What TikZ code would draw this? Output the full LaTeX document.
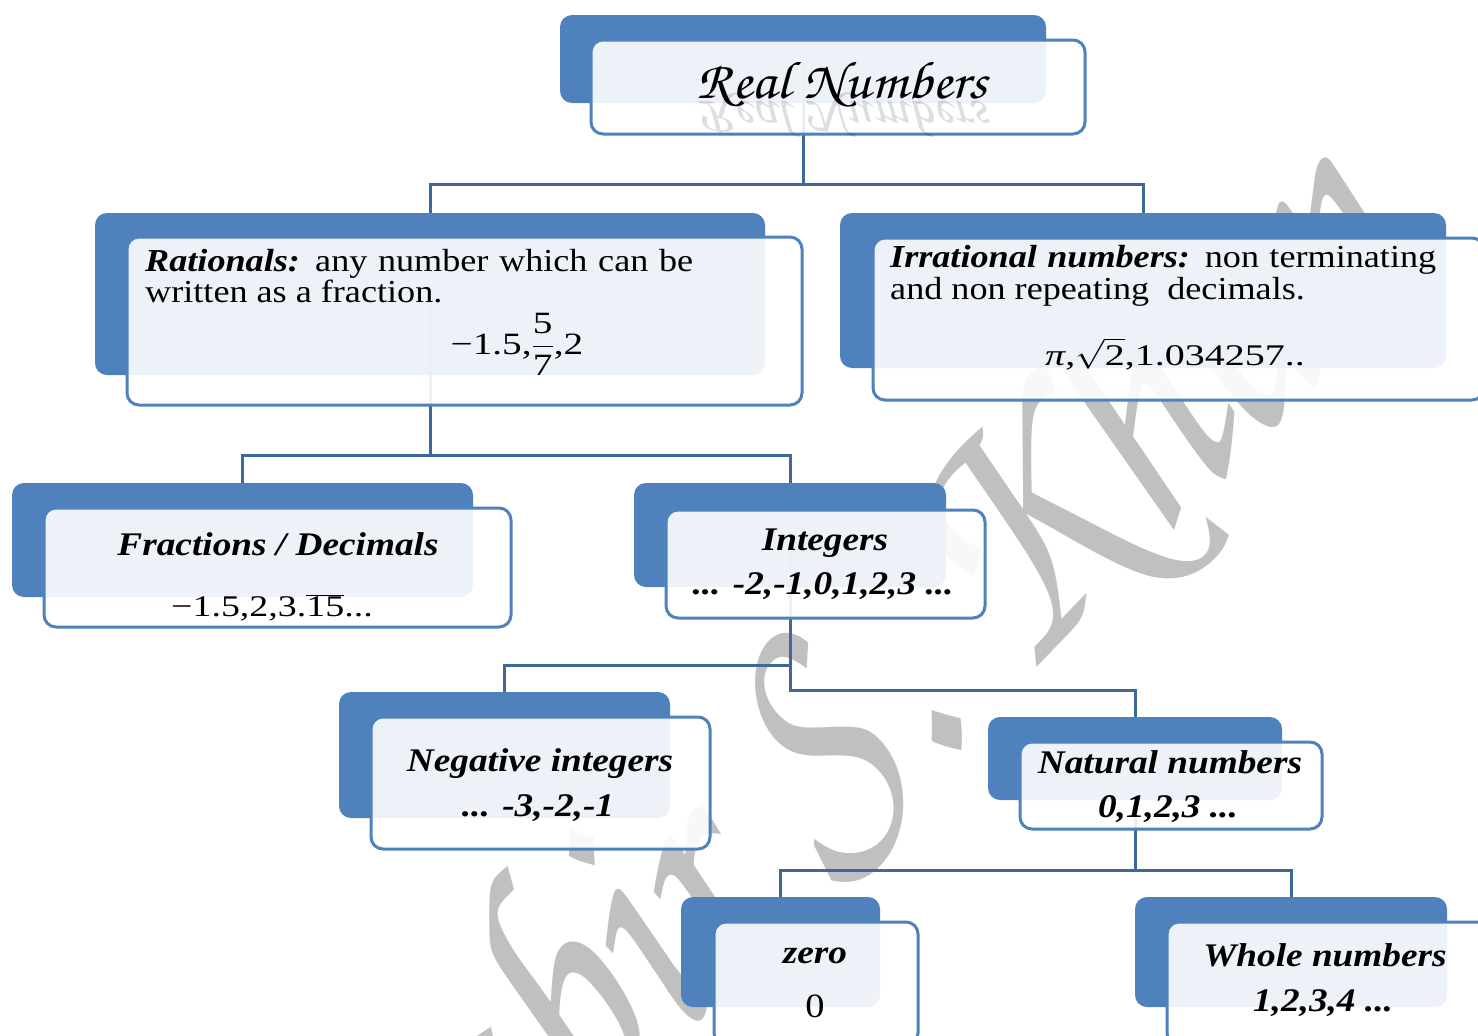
\RequirePackage{fix-cm}
\documentclass[tikz,border=0pt]{standalone}
\usepackage{fontspec}
\usepackage{graphicx}
\setmainfont{Liberation Serif}[FakeStretch=1.13]
\newfontfamily\chorus{texgyrechorus-mediumitalic.otf}
\definecolor{boxblue}{RGB}{79,129,189}
\definecolor{lineblue}{RGB}{62,106,155}
\definecolor{wmgray}{RGB}{192,192,192}
\tikzset{
  backbox/.style={fill=boxblue, draw=none, rounded corners=12pt, inner sep=0pt},
  frontbox/.style={fill=white, fill opacity=0.9, draw=boxblue, line width=3pt, rounded corners=12pt, inner sep=0pt},
  conn/.style={draw=lineblue, line width=3pt},
  ttl/.style={font=\fontsize{33}{36}\selectfont\bfseries\itshape, anchor=base, inner sep=0pt},
  bodytxt/.style={font=\fontsize{32}{32}\selectfont, anchor=base west, inner sep=0pt},
  numtxt/.style={font=\fontsize{30}{30}\selectfont, anchor=base, inner sep=0pt},
}
\begin{document}
\begin{tikzpicture}[x=1pt,y=-1pt]
\useasboundingbox (0,0) rectangle (1478,1036);
\clip (0,0) rectangle (1478,1036);
\fill[white] (0,0) rectangle (1478,1036);
% watermark
\begin{scope}[shift={(848,726)}]
\node[text=wmgray, font=\chorus\fontsize{300}{300}\selectfont, rotate=46, inner sep=0pt] (wm) at (0,0) {\scalebox{1}[1.2]{Sabir S. Khan}};
\end{scope}
% back boxes
\node[backbox, minimum width=486pt, minimum height=88pt] (rnB) at (803,59) {};
\node[backbox, minimum width=670pt, minimum height=162pt] (ratB) at (430,294) {};
\node[backbox, minimum width=606pt, minimum height=155pt] (irrB) at (1143,290.5) {};
\node[backbox, minimum width=461pt, minimum height=114pt] (fracB) at (242.5,540) {};
\node[backbox, minimum width=312pt, minimum height=104pt] (intB) at (790,535) {};
\node[backbox, minimum width=331pt, minimum height=126pt] (negB) at (504.5,755) {};
\node[backbox, minimum width=294pt, minimum height=83pt] (natB) at (1135,758.5) {};
\node[backbox, minimum width=199pt, minimum height=110pt] (zeroB) at (780.5,952) {};
\node[backbox, minimum width=312pt, minimum height=110pt] (wholeB) at (1291,952) {};
% connector levels
\coordinate (h1) at (0,184);
\coordinate (h2) at (0,455);
\coordinate (h3a) at (0,665);
\coordinate (h3b) at (0,690);
\coordinate (h4) at (0,870);
\draw[conn] (rnB.center) -- (rnB.center |- h1);
\draw[conn] (ratB.north) -- (ratB.north |- h1) -- (irrB.north |- h1) -- (irrB.north);
\draw[conn] (ratB.center) -- (ratB.center |- h2);
\draw[conn] (fracB.north) -- (fracB.north |- h2) -- (intB.north |- h2) -- (intB.north);
\draw[conn] (intB.center) -- (intB.center |- h3b) -- (natB.north |- h3b) -- (natB.north);
\draw[conn] (intB.center |- h3a) -- (negB.north |- h3a) -- (negB.north);
\draw[conn] (natB.center) -- (natB.center |- h4);
\draw[conn] (zeroB.north) -- (zeroB.north |- h4) -- (wholeB.north |- h4) -- (wholeB.north);
% front boxes
\node[frontbox, minimum width=494pt, minimum height=94pt] (rnF) at (838,87) {};
\node[frontbox, minimum width=675pt, minimum height=168pt] (ratF) at (464.5,321) {};
\node[frontbox, minimum width=611pt, minimum height=162pt] (irrF) at (1178.5,319) {};
\node[frontbox, minimum width=467pt, minimum height=119pt] (fracF) at (277.5,567.5) {};
\node[frontbox, minimum width=319pt, minimum height=108pt] (intF) at (825.5,564) {};
\node[frontbox, minimum width=339pt, minimum height=132pt] (negF) at (540.5,783) {};
\node[frontbox, minimum width=302pt, minimum height=87pt] (natF) at (1171,785.5) {};
\node[frontbox, minimum width=204pt, minimum height=123pt] (zeroF) at (816,983.5) {};
\node[frontbox, minimum width=323pt, minimum height=123pt] (wholeF) at (1328.5,983.5) {};
% texts
\node[anchor=base, inner sep=0pt] (rnT) at (842,98) {\resizebox{290pt}{36pt}{\chorus Real Numbers}};
\begin{scope}[shift={(842,101)}]
\node[anchor=base, inner sep=0pt, yscale=-1, transform shape, opacity=0.13] (rnR) at (0,0) {\resizebox{290pt}{36pt}{\chorus Real Numbers}};
\end{scope}
\node[bodytxt] (ratL1) at (145,271) {\makebox[548pt][s]{\textbf{\textit{Rationals:}} any number which can be}};
\node[bodytxt] (ratL2) at (145,302) {written as a fraction.};
\node[numtxt, font=\fontsize{31}{31}\selectfont] (ratM) at (517,354) {\scalebox{1.12}[1]{−1.5,$\displaystyle\frac{\hbox{5}\rule[-6pt]{0pt}{6pt}}{\hbox{7}\rule{0pt}{27pt}}$,2}};
\node[bodytxt] (irrL1) at (890,267) {\makebox[546pt][s]{\textbf{\textit{Irrational numbers:}} non terminating}};
\node[bodytxt] (irrL2) at (890,299) {and non repeating\ \ decimals.};
\node[numtxt] (irrM) at (1175,365) {\scalebox{1.18}[1]{\textit{π},$\sqrt{\hbox{2}}$,1.034257..}};
\node[ttl] (fracT) at (278,555) {Fractions / Decimals};
\node[numtxt] (fracM) at (272,616) {\scalebox{1.12}[1]{−1.5,2,3.$\overline{\hbox{15}}$...}};
\node[ttl] (intT) at (825,550) {Integers};
\node[ttl] (intM) at (823,594) {... -2,-1,0,1,2,3 ...};
\node[ttl] (negT) at (540,771) {Negative integers};
\node[ttl] (negM) at (538,816) {... -3,-2,-1};
\node[ttl] (natT) at (1170,773) {Natural numbers};
\node[ttl] (natM) at (1168,817) {0,1,2,3 ...};
\node[ttl] (zeroT) at (815,963) {zero};
\node[numtxt, font=\fontsize{34}{34}\selectfont] (zeroM) at (815,1017) {0};
\node[ttl] (wholeT) at (1325,966) {Whole numbers};
\node[ttl] (wholeM) at (1323,1011) {1,2,3,4 ...};
\end{tikzpicture}
\end{document}
